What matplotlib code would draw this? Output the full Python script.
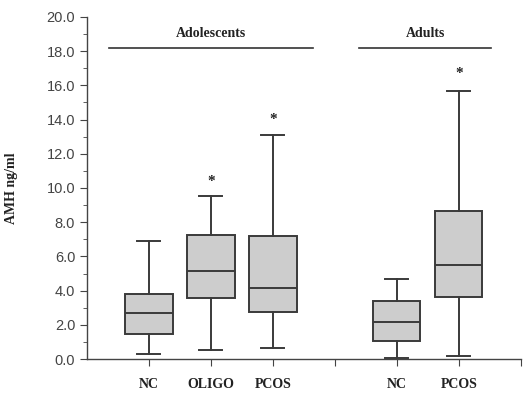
import matplotlib
matplotlib.use("Agg")
import matplotlib.pyplot as plt
from matplotlib.ticker import MultipleLocator

categories = ["NC", "OLIGO", "PCOS", "NC", "PCOS"]
positions = [1, 2, 3, 5, 6]
whislo = [0.27, 0.55, 0.63, 0.08, 0.19]
q1 = [1.46, 3.55, 2.77, 1.05, 3.64]
med = [2.70, 5.16, 4.13, 2.16, 5.50]
q3 = [3.80, 7.23, 7.20, 3.41, 8.64]
whishi = [6.92, 9.55, 13.1, 4.68, 15.7]
stars = [None, 10.4, 14.0, None, 16.7]
groups = ["Adolescents", "Adults"]
group_spans = [(0.36, 3.65), (4.39, 6.52)]
group_y = 18.2

fig = plt.figure(figsize=(5.23, 3.94), dpi=100)
ax = fig.add_axes([0.1663, 0.0888, 0.8297, 0.8681])

stats = []
for i in range(len(categories)):
    stats.append(dict(med=med[i], q1=q1[i], q3=q3[i], whislo=whislo[i],
                      whishi=whishi[i], fliers=[], label=categories[i]))

edge = "#3a3a3a"
ax.bxp(stats, positions=positions, widths=0.76, patch_artist=True,
       showfliers=False,
       boxprops=dict(facecolor="#cdcdcd", edgecolor=edge, linewidth=1.4),
       medianprops=dict(color=edge, linewidth=1.4),
       whiskerprops=dict(color=edge, linewidth=1.4),
       capprops=dict(color=edge, linewidth=1.4),
       capwidths=0.37)

for p, s in zip(positions, stars):
    if s is not None:
        ax.text(p, s, "*", ha="center", va="center", fontsize=11,
                family="Liberation Serif", fontweight="bold", color="#222")

for g, (a, b) in zip(groups, group_spans):
    ax.plot([a, b], [group_y, group_y], color="#333", lw=1.2, clip_on=False)
    ax.text((a + b) / 2, group_y + 0.45, g, ha="center", va="bottom",
            fontsize=10, family="Liberation Serif", fontweight="bold", color="#222")

ax.set_xlim(0, 7)
ax.set_ylim(0, 20)
ax.set_xticks([1, 2, 3, 4, 5, 6, 7])
ax.set_xticklabels(["NC", "OLIGO", "PCOS", "", "NC", "PCOS", ""],
                   family="Liberation Serif", fontweight="bold", fontsize=10, color="#222")
ax.tick_params(axis="x", direction="out", length=5, pad=9, color="#444")
ax.yaxis.set_major_locator(MultipleLocator(2))
ax.yaxis.set_minor_locator(MultipleLocator(1))
ax.set_yticks(range(0, 21, 2))
ax.set_yticklabels([f"{v:.1f}" for v in range(0, 21, 2)],
                   family="Liberation Sans", fontsize=10.5, color="#444")
ax.tick_params(axis="y", which="major", length=5, color="#444")
ax.tick_params(axis="y", which="minor", length=3, color="#444")
for s in ["top", "right"]:
    ax.spines[s].set_visible(False)
for s in ["left", "bottom"]:
    ax.spines[s].set_color("#444")
    ax.spines[s].set_linewidth(1.0)
ax.set_ylabel("AMH ng/ml", family="Liberation Serif", fontweight="bold",
              fontsize=10, color="#222")
ax.yaxis.set_label_coords(-0.159, 0.5)

fig.savefig("out.png", dpi=100)
